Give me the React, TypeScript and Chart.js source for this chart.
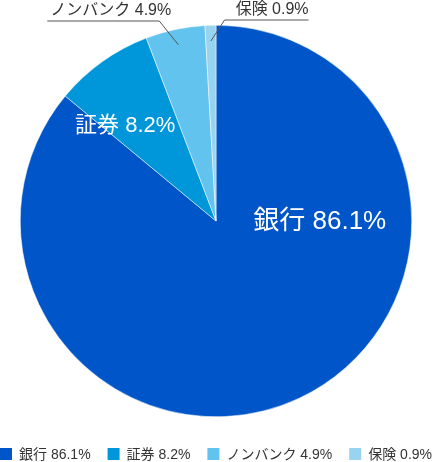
import React, { useEffect, useRef } from "react";
import { Chart, registerables } from "chart.js";

Chart.register(...registerables);

const categories = ["銀行", "証券", "ノンバンク", "保険"];
const shares = [86.1, 8.2, 4.9, 0.9];
const sliceColors = ["#0055C8", "#0096DA", "#62C3EE", "#98D3F0"];

const FONT = "'Liberation Sans', 'Noto Sans CJK JP', sans-serif";

const labelText = (i: number) => `${categories[i]} ${shares[i]}%`;

const overlayPlugin = {
  id: "overlay",
  afterDraw(chart: any) {
    const ctx = chart.ctx as CanvasRenderingContext2D;
    const meta = chart.getDatasetMeta(0);
    const arcs = meta.data as any[];
    if (!arcs.length) return;
    const cx = arcs[0].x;
    const cy = arcs[0].y;
    const r = arcs[0].outerRadius;
    ctx.save();

    // inner labels
    const inner = [
      { i: 0, dx: 0.53, dy: 0.005, size: 26 },
      { i: 1, dx: -0.464, dy: -0.485, size: 22 },
    ];
    ctx.fillStyle = "#ffffff";
    ctx.textAlign = "center";
    ctx.textBaseline = "middle";
    for (const l of inner) {
      ctx.font = `${l.size}px ${FONT}`;
      ctx.fillText(labelText(l.i), cx + l.dx * r, cy + l.dy * r);
    }

    // outer labels with leader lines
    const outer = [
      { i: 2, side: -1, slope: 0.8, len: 112, lineY: 21 },
      { i: 3, side: 1, slope: 0.65, len: 84, lineY: 20 },
    ];
    ctx.strokeStyle = "#555555";
    ctx.lineWidth = 1;
    ctx.fillStyle = "#333333";
    ctx.font = `16px ${FONT}`;
    for (const l of outer) {
      const a = arcs[l.i];
      const mid = (a.startAngle + a.endAngle) / 2;
      const sx = cx + Math.cos(mid) * r * 0.92;
      const sy = cy + Math.sin(mid) * r * 0.92;
      const ex = sx + l.side * l.slope * (sy - l.lineY);
      const ey = l.lineY;
      const lx = ex + l.side * l.len;
      ctx.beginPath();
      ctx.moveTo(sx, sy);
      ctx.lineTo(ex, ey);
      ctx.lineTo(lx, ey);
      ctx.stroke();
      ctx.textBaseline = "alphabetic";
      if (l.side < 0) {
        ctx.textAlign = "left";
        ctx.fillText(labelText(l.i), lx + 3, ey - 6);
      } else {
        ctx.textAlign = "right";
        ctx.fillText(labelText(l.i), lx, ey - 6);
      }
    }

    // legend
    ctx.font = `14px ${FONT}`;
    ctx.textAlign = "left";
    ctx.textBaseline = "middle";
    const box = 12;
    const gapBoxText = 7;
    const widths = categories.map((_, i) => box + gapBoxText + ctx.measureText(labelText(i)).width);
    const sum = widths.reduce((s, w) => s + w, 0);
    const gapItems = (chart.width - 1 - sum) / (categories.length - 1);
    let x = 0;
    const ly = 454;
    categories.forEach((_, i) => {
      ctx.fillStyle = sliceColors[i];
      ctx.fillRect(x, ly - box / 2, box, box);
      ctx.fillStyle = "#333333";
      ctx.fillText(labelText(i), x + box + gapBoxText, ly + 1);
      x += widths[i] + gapItems;
    });

    ctx.restore();
  },
};

export default function App() {
  const ref = useRef<HTMLCanvasElement | null>(null);
  useEffect(() => {
    if (!ref.current) return;
    const chart = new Chart(ref.current, {
      type: "pie",
      data: {
        labels: categories,
        datasets: [
          {
            data: shares,
            backgroundColor: sliceColors,
            borderColor: "#ffffff",
            borderWidth: 0.5,
          },
        ],
      },
      options: {
        animation: false,
        responsive: true,
        maintainAspectRatio: false,
        layout: { padding: { top: 25, bottom: 45, left: 20, right: 21 } },
        plugins: {
          legend: { display: false },
          tooltip: { enabled: false },
        },
      },
      plugins: [overlayPlugin],
    });
    return () => chart.destroy();
  }, []);
  return (
    <div style={{ position: "fixed", left: 0, top: 0, width: 433, height: 462, background: "#fff" }}>
      <canvas ref={ref} />
    </div>
  );
}
